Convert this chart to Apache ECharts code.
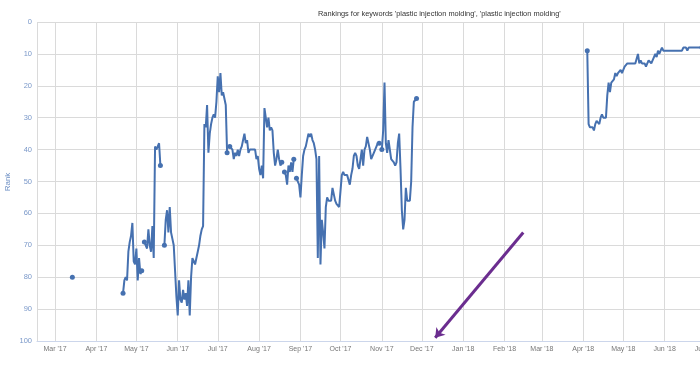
<!DOCTYPE html>
<html>
<head>
<meta charset="utf-8">
<script src="https://cdn.jsdelivr.net/npm/echarts@6/dist/echarts.min.js"></script>
<style>
  html, body { margin: 0; padding: 0; background: #fff; }
  #chart { width: 700px; height: 377px; }
</style>
</head>
<body>
<div id="chart"></div>
<script>
var monthNames = ['Jan', 'Feb', 'Mar', 'Apr', 'May', 'Jun', 'Jul', 'Aug', 'Sep', 'Oct', 'Nov', 'Dec'];

// each run of daily rankings starts on one of these days
var segmentStarts = ['2017-03-14', '2017-04-21', '2017-05-07', '2017-05-22', '2017-07-10',
                     '2017-08-20', '2017-08-29', '2017-11-01', '2018-04-04'];

var segmentRanks = [
  [80],
  [85, 81, 80, 81, 72, 69, 67, 63, 75, 76, 71, 81, 74, 79, 78],
  [69, 69, 71, 65, 70, 72, 64, 74, 39, 40, 39, 38, 45],
  [70, 62, 59, 66, 58, 66, 68, 70, 78, 86, 92, 81, 87, 88, 84, 87, 85, 89, 81, 92,
   80, 74, 75, 76, 74, 72, 70, 67, 65, 64, 32, 33, 26, 41, 35, 32, 30, 29, 30, 25,
   17, 22, 16, 23, 22, 22, 26, 41],
  [39, 39, 40, 43, 41, 42, 40, 42, 40, 39, 37, 35, 38, 37, 41, 40, 40, 40, 40, 40,
   43, 42, 46, 48, 45, 49, 27, 30, 33, 30, 34, 33, 34, 41, 45, 43, 40, 43, 45, 44],
  [47, 48, 51, 45, 47, 44, 47, 43],
  [49, 49, 51, 55, 48, 42, 40, 39, 39, 35, 36, 35, 37, 38, 40, 43, 74, 42, 76, 62,
   66, 71, 58, 55, 56, 56, 56, 52, 52, 56, 57, 57, 58, 53, 48, 47, 48, 48, 48, 48,
   51, 48, 46, 42, 41, 42, 45, 46, 46, 40, 45, 40, 39, 36, 36, 40, 43, 43, 41, 40,
   39, 38, 38],
  [40, 34, 19, 38, 41, 37, 40, 43, 43, 44, 45, 44, 38, 35, 46, 59, 65, 62, 52, 56,
   56, 56, 50, 33, 25, 25, 24],
  [9, 32, 33, 33, 33, 34, 32, 31, 31, 32, 30, 29, 30, 30, 30,
   23, 19, 22, 19, 19, 18, 16, 17, 16, 16, 15, 16, 15, 14, 14,
   13, 13, 13, 13, 13, 13, 13, 13, 10,
   13, 12, 13, 13, 13, 14, 13, 12, 12, 13, 13,
   11, 10, 11, 9, 10, 9, 8,
   9, 9, 9, 9, 9, 9, 9, 9, 9, 9, 9, 9, 9, 9, 9,
   8, 8, 8, 9, 8, 8, 8, 8, 8, 8, 8, 8, 8, 8, 8]
];

// hand-drawn purple arrow on the picture
var arrowFrom = ['2018-02-15', 66];
var arrowTo = ['2017-12-11', 99];

var DAY = 24 * 3600 * 1000;

function addDays(str, n) {
  var d = new Date(str + 'T00:00:00Z');
  d.setUTCDate(d.getUTCDate() + n);
  return d.toISOString().slice(0, 10);
}

var rankData = [];
segmentStarts.forEach(function (start, s) {
  var ranks = segmentRanks[s];
  ranks.forEach(function (r, i) {
    var item = { value: [addDays(start, i), r] };
    if (i === 0 || i === ranks.length - 1) {
      item.symbol = 'circle';
      item.symbolSize = 5;
    }
    rankData.push(item);
  });
  rankData.push({ value: [addDays(start, ranks.length), '-'] });
});

var chart = echarts.init(document.getElementById('chart'));
var option = {
  animation: false,
  textStyle: { fontFamily: 'Liberation Sans' },
  title: {
    text: "Rankings for keywords 'plastic injection molding', 'plastic injection molding'",
    left: 313,
    top: 5,
    textStyle: { fontSize: 7.4, fontWeight: 'normal', color: '#333', fontFamily: 'Liberation Sans' }
  },
  // y axis title, set by hand so it sits where the original has it
  graphic: [{
    type: 'text',
    x: 8,
    y: 182,
    rotation: Math.PI / 2,
    style: {
      text: 'Rank',
      fill: '#6d8fc4',
      font: '8px "Liberation Sans"',
      textAlign: 'center',
      textVerticalAlign: 'middle'
    }
  }],
  grid: { left: 37, right: -10, top: 22, bottom: 36, outerBoundsMode: 'none' },
  xAxis: {
    type: 'time',
    min: '2017-02-15 12:00',
    max: '2018-07-05',
    splitNumber: 17,
    minInterval: 28 * DAY,
    maxInterval: 31 * DAY,
    axisLine: { onZero: false, lineStyle: { color: '#ccd6eb' } },
    axisTick: { show: false },
    splitLine: { show: true, lineStyle: { color: '#dadada' } },
    axisLabel: {
      color: '#777',
      fontSize: 7,
      margin: 5,
      formatter: function (val) {
        var d = new Date(val);
        return monthNames[d.getMonth()] + " '" + String(d.getFullYear()).slice(2);
      }
    }
  },
  yAxis: {
    type: 'value',
    inverse: true,
    min: 0,
    max: 100,
    interval: 10,
    axisLine: { show: false },
    axisTick: { show: false },
    splitLine: { lineStyle: { color: '#dadada' } },
    axisLabel: { color: '#7a98c9', fontSize: 7.5, margin: 5 }
  },
  series: [
    {
      name: 'plastic injection molding',
      type: 'line',
      data: rankData,
      showSymbol: true,
      showAllSymbol: true,
      symbol: 'none',
      connectNulls: false,
      lineStyle: { color: '#4671b0', width: 2 },
      itemStyle: { color: '#4671b0' },
      markLine: {
        silent: true,
        symbol: ['none', 'arrow'],
        symbolSize: 9,
        label: { show: false },
        lineStyle: { color: '#6b2d8f', width: 3, type: 'solid' },
        data: [[{ coord: arrowFrom }, { coord: arrowTo }]]
      }
    }
  ]
};
chart.setOption(option);
</script>
</body>
</html>
